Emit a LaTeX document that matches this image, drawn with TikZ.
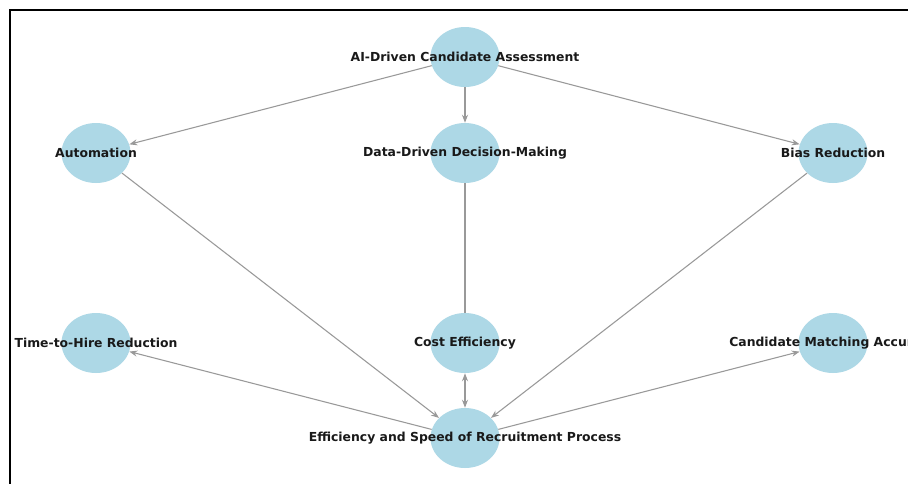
\documentclass[tikz,border=0pt]{standalone}
\usepackage{fontspec}
\setmainfont{DejaVu Sans}
\usetikzlibrary{shapes.geometric,arrows.meta}
\definecolor{bubblue}{HTML}{ADD8E6}
\definecolor{edgegray}{HTML}{999999}
\begin{document}
\begin{tikzpicture}[x=0.75pt,y=-0.75pt,
  bub/.style={ellipse,fill=bubblue,minimum width=51.75pt,minimum height=45pt,inner sep=0pt},
  lbl/.style={font=\bfseries\fontsize{9.3}{10}\selectfont,inner sep=0pt,text=black!90},
  edge/.style={draw=edgegray,line width=0.8pt,-{Stealth[length=6pt,width=4.5pt]}},
  both/.style={draw=edgegray,line width=0.8pt,{Stealth[length=6pt,width=4.5pt]}-{Stealth[length=6pt,width=4.5pt]}},
  plain/.style={draw=edgegray,line width=0.8pt}]
\useasboundingbox (0,0) rectangle (908,483);
\fill[white] (0,0) rectangle (908,483);
\begin{scope}
\clip (11,11) rectangle (908,483);
\node[bub] (ai) at (465,57) {};
\node[bub] (auto) at (96,153) {};
\node[bub] (data) at (465,153) {};
\node[bub] (bias) at (833,153) {};
\node[bub] (time) at (96,343) {};
\node[bub] (cost) at (465,343) {};
\node[bub] (match) at (833,343) {};
\node[bub] (eff) at (465,438) {};
\draw[edge] (ai) -- (auto);
\draw[edge] (ai) -- (data);
\draw[edge] (ai) -- (bias);
\draw[edge] (auto) -- (eff);
\draw[plain] (data) -- (cost);
\draw[edge] (bias) -- (eff);
\draw[edge] (eff) -- (time);
\draw[both] (eff) -- (cost);
\draw[edge] (eff) -- (match);
\node[lbl] (ai-t) at (ai) {AI-Driven Candidate Assessment};
\node[lbl] (auto-t) at (auto) {Automation};
\node[lbl] (data-t) at (data) {Data-Driven Decision-Making};
\node[lbl] (bias-t) at (bias) {Bias Reduction};
\node[lbl] (time-t) at (time) {Time-to-Hire Reduction};
\node[lbl] (cost-t) at (cost) {Cost Efficiency};
\node[lbl] (match-t) at (match) {Candidate Matching Accuracy};
\node[lbl] (eff-t) at (eff) {Efficiency and Speed of Recruitment Process};
\end{scope}
\draw[line width=1.6pt] (10,490) -- (10,10) -- (915,10);
\end{tikzpicture}
\end{document}
